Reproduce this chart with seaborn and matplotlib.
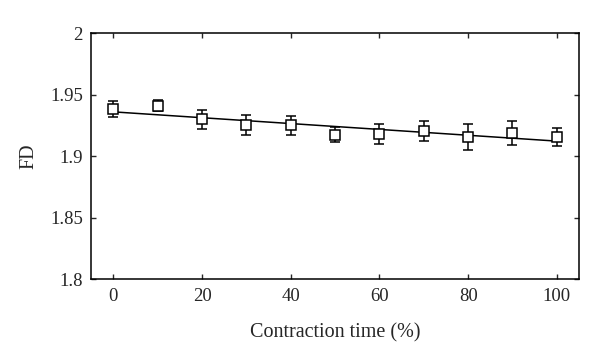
import numpy as np
import pandas as pd
import matplotlib
matplotlib.use("Agg")
import matplotlib.pyplot as plt
import seaborn as sns

# datos
contraction_time = [0, 10, 20, 30, 40, 50, 60, 70, 80, 90, 100]
fd_mean = [1.938, 1.941, 1.930, 1.9255, 1.925, 1.9174, 1.918, 1.9204, 1.9156, 1.9188, 1.9156]
fd_err = [0.0065, 0.0047, 0.0077, 0.008, 0.0077, 0.006, 0.0082, 0.0081, 0.0105, 0.0096, 0.0073]

df = pd.DataFrame({"t": contraction_time, "fd": fd_mean, "err": fd_err})

sns.set_style("ticks")
plt.rcParams["font.family"] = ["Liberation Serif", "DejaVu Serif"]
plt.rcParams["xtick.direction"] = "in"
plt.rcParams["ytick.direction"] = "in"

fig = plt.figure(figsize=(6, 3.55), dpi=100)
ax = fig.add_axes([0.152, 0.213, 0.813, 0.694])

# recta de ajuste
sns.regplot(data=df, x="t", y="fd", scatter=False, ci=None, ax=ax,
            line_kws={"color": "black", "lw": 1.1})

# puntos con barras de error
ax.errorbar(df["t"], df["fd"], yerr=df["err"], fmt="s", mfc="white", mec="black",
            ms=7.5, mew=1.1, ecolor="black", elinewidth=1.1, capsize=3.5, capthick=1.1,
            zorder=3)

ax.set_xlim(-5, 105)
ax.set_ylim(1.8, 2.0)
ax.set_xticks([0, 20, 40, 60, 80, 100])
ax.set_yticks([1.8, 1.85, 1.9, 1.95, 2.0])
ax.set_yticklabels(["1.8", "1.85", "1.9", "1.95", "2"])
ax.tick_params(top=True, right=True, length=3.5, width=1, labelsize=13.5, pad=6)
for s in ax.spines.values():
    s.set_linewidth(1.1)
    s.set_color("black")

ax.set_xlabel("Contraction time (%)", fontsize=14.5, labelpad=13)
ax.set_ylabel("FD", fontsize=14.5, labelpad=8)

fig.savefig("out.png", dpi=100)
